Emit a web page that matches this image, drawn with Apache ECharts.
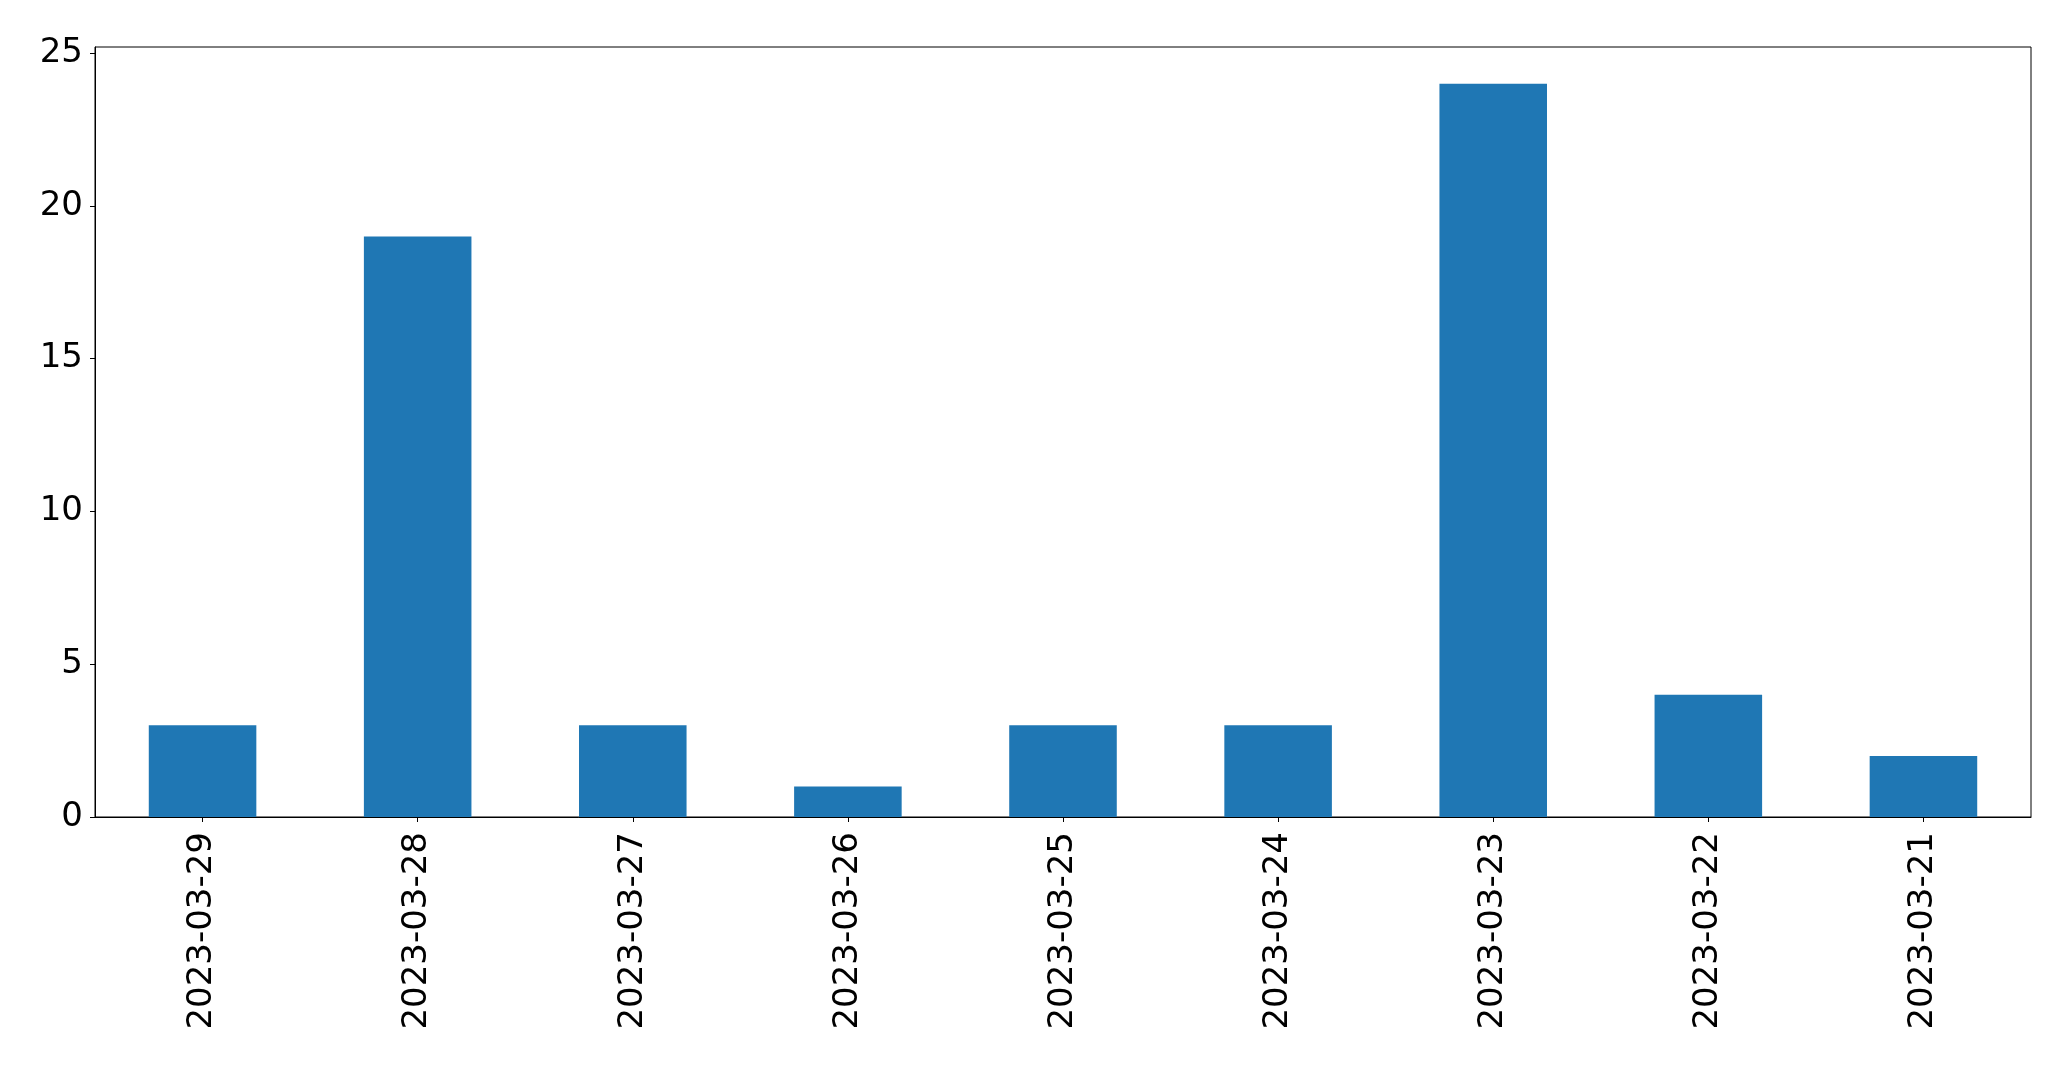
<!DOCTYPE html>
<html>
<head>
<meta charset="utf-8">
<script src="https://cdn.jsdelivr.net/npm/echarts@6/dist/echarts.min.js"></script>
<style>html,body{margin:0;padding:0;background:#fff}#c{width:2071px;height:1069px}</style>
</head>
<body>
<div id="c"></div>
<script>
var categories = ["2023-03-29","2023-03-28","2023-03-27","2023-03-26","2023-03-25","2023-03-24","2023-03-23","2023-03-22","2023-03-21"];
var values = [3, 19, 3, 1, 3, 3, 24, 4, 2];
var yTicks = [0, 5, 10, 15, 20, 25];

var chart = echarts.init(document.getElementById('c'), null, {renderer: 'canvas'});
var font = '"DejaVu Sans", sans-serif';
chart.setOption({
  animation: false,
  backgroundColor: '#fff',
  grid: {left: 95, top: 47, right: 40, bottom: 252, show: true, borderColor: '#000', borderWidth: 1, backgroundColor: 'transparent'},
  xAxis: {
    type: 'category',
    data: categories,
    axisLine: {show: true, lineStyle: {color: '#000', width: 1}},
    axisTick: {show: true, alignWithLabel: true, length: 5, lineStyle: {color: '#000', width: 1}},
    axisLabel: {rotate: 90, color: '#000', fontSize: 34, fontFamily: font, margin: 15, interval: 0},
    splitLine: {show: false}
  },
  yAxis: {
    type: 'value',
    min: 0,
    max: 25.2,
    interval: 5,
    axisLine: {show: true, lineStyle: {color: '#000', width: 1}},
    axisTick: {show: true, length: 5, lineStyle: {color: '#000', width: 1}, customValues: yTicks},
    axisLabel: {color: '#000', fontSize: 34, fontFamily: font, margin: 12, customValues: yTicks},
    splitLine: {show: false}
  },
  series: [{
    type: 'bar',
    data: values,
    barWidth: '50%',
    itemStyle: {color: '#1f77b4'}
  }]
});
</script>
</body>
</html>
